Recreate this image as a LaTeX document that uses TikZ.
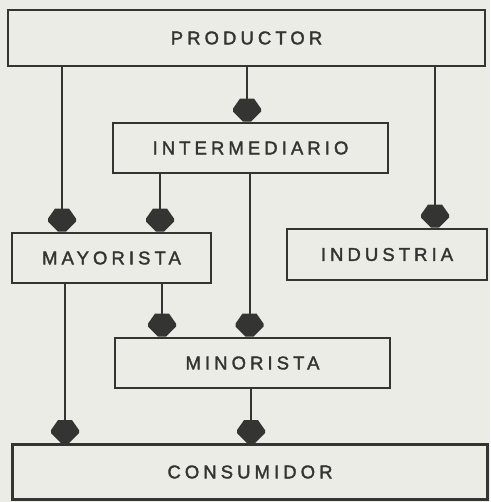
\documentclass[tikz,border=0pt]{standalone}
\usepackage{fontspec}
\newfontfamily\lblfont[LetterSpace=22,FakeBold=1.8]{Liberation Sans}
\definecolor{bgc}{RGB}{236,236,231}
\definecolor{ink}{RGB}{52,52,50}
\pgfdeclarearrow{
  name = FatHead,
  setup code = {
    \pgfarrowssettipend{0pt}
    \pgfarrowssetlineend{-10pt}
    \pgfarrowssetvisualbackend{-23pt}
    \pgfarrowssetbackend{-23pt}
    \pgfarrowshullpoint{0pt}{0pt}
    \pgfarrowsupperhullpoint{-23pt}{13pt}
  },
  drawing code = {
    \pgfpathmoveto{\pgfpoint{0pt}{4pt}}
    \pgfpathlineto{\pgfpoint{-10pt}{14pt}}
    \pgfpathlineto{\pgfpoint{-13pt}{14pt}}
    \pgfpathlineto{\pgfpoint{-23pt}{7pt}}
    \pgfpathlineto{\pgfpoint{-23pt}{-7pt}}
    \pgfpathlineto{\pgfpoint{-13pt}{-14pt}}
    \pgfpathlineto{\pgfpoint{-10pt}{-14pt}}
    \pgfpathlineto{\pgfpoint{0pt}{-4pt}}
    \pgfpathclose
    \pgfusepathqfill
  },
  defaults = {}
}
\tikzset{
  box/.style={draw=ink, line width=2.8pt, fill=bgc, text=ink, inner sep=0pt,
    font=\lblfont\fontsize{18.5}{18.5}\selectfont},
  conn/.style={draw=ink, line width=2pt, -{FatHead}}
}
\begin{document}
\begin{tikzpicture}[x=1pt, y=-1pt]
\fill[bgc] (0,0) rectangle (490,502);
\useasboundingbox (0,0) rectangle (490,502);
\node[box, minimum width=477pt, minimum height=56pt] (prod) at (246.5,38) {PRODUCTOR};
\node[box, minimum width=275pt, minimum height=50pt] (inter) at (250.5,148) {INTERMEDIARIO};
\node[box, minimum width=199pt, minimum height=50pt] (may) at (111.5,258) {MAYORISTA};
\node[box, minimum width=200pt, minimum height=51pt] (ind) at (387,254.5) {INDUSTRIA};
\node[box, minimum width=275pt, minimum height=50pt] (min) at (252.5,363) {MINORISTA};
\node[box, minimum width=475pt, minimum height=55pt] (cons) at (250,472) {CONSUMIDOR};
\coordinate (xa) at (62,0);
\coordinate (xb) at (247,0);
\coordinate (xc) at (435,0);
\coordinate (xd) at (160,0);
\coordinate (xe) at (249.5,0);
\coordinate (xf) at (162,0);
\coordinate (xg) at (65,0);
\coordinate (xh) at (251,0);
\draw[conn] (prod.south -| xa) -- (may.north -| xa);
\draw[conn] (prod.south -| xb) -- (inter.north -| xb);
\draw[conn] (prod.south -| xc) -- (ind.north -| xc);
\draw[conn] (inter.south -| xd) -- (may.north -| xd);
\draw[conn] (inter.south -| xe) -- (min.north -| xe);
\draw[conn] (may.south -| xf) -- (min.north -| xf);
\draw[conn] (may.south -| xg) -- (cons.north -| xg);
\draw[conn] (min.south -| xh) -- (cons.north -| xh);
\end{tikzpicture}
\end{document}
